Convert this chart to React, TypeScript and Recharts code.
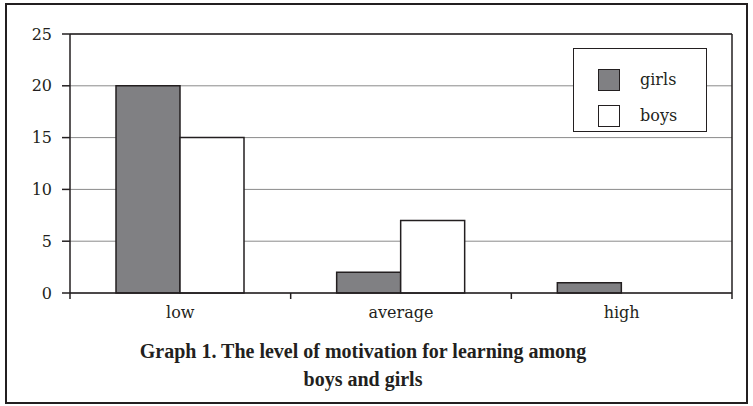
import {
  BarChart,
  Bar,
  XAxis,
  YAxis,
  CartesianGrid,
  ReferenceLine,
} from "recharts";

const categories = ["low", "average", "high"];
const girls = [20, 2, 1];
const boys = [15, 7, 0];
const yTicks = [0, 5, 10, 15, 20, 25];
const titleLines = [
  "Graph 1. The level of motivation for learning among",
  "boys and girls",
];

const data = categories.map((level, i) => ({
  level,
  girls: girls[i],
  boys: boys[i],
}));

const ink = "#231f20";
const gray = "#808083";
const serif = "'DejaVu Serif', serif";
const titleFont = "'Liberation Serif', serif";

const TICK_SIZE = 6;
const TICK_MARGIN = 8;

// category label + tick marks on the category boundaries (Excel style)
function CategoryTick(props: any) {
  const { x, y, payload, index, width, visibleTicksCount } = props;
  const half =
    payload && payload.offset ? payload.offset : width / visibleTicksCount / 2;
  const axisY = y - TICK_SIZE - TICK_MARGIN;
  const last = index === visibleTicksCount - 1;
  return (
    <g>
      <line
        x1={x - half}
        x2={x - half}
        y1={axisY}
        y2={axisY + TICK_SIZE}
        stroke={ink}
        strokeWidth={1.5}
      />
      {last && (
        <line
          x1={x + half}
          x2={x + half}
          y1={axisY}
          y2={axisY + TICK_SIZE}
          stroke={ink}
          strokeWidth={1.5}
        />
      )}
      <text
        x={x}
        y={y}
        dy="0.71em"
        textAnchor="middle"
        fill={ink}
        fontFamily={serif}
        fontSize={16}
      >
        {payload.value}
      </text>
    </g>
  );
}

// legend box, like the Excel one in the original
function LegendBox() {
  const items = [
    { name: "girls", fill: gray },
    { name: "boys", fill: "#ffffff" },
  ];
  return (
    <div
      style={{
        position: "absolute",
        left: 573,
        top: 48,
        width: 134,
        height: 84,
        boxSizing: "border-box",
        border: `1px solid ${ink}`,
        background: "#fff",
        paddingTop: 13,
        fontFamily: serif,
        fontSize: 16,
        color: ink,
      }}
    >
      {items.map((it) => (
        <div
          key={it.name}
          style={{ display: "flex", alignItems: "center", height: 36 }}
        >
          <span
            style={{
              display: "inline-block",
              width: 20,
              height: 20,
              marginLeft: 24,
              border: `1.5px solid ${ink}`,
              background: it.fill,
            }}
          />
          <span style={{ marginLeft: 20, lineHeight: "20px" }}>{it.name}</span>
        </div>
      ))}
    </div>
  );
}

export default function App() {
  return (
    <div
      style={{
        position: "absolute",
        left: 0,
        top: 0,
        width: 753,
        height: 406,
        background: "#fff",
      }}
    >
      <div
        style={{
          position: "absolute",
          left: 5,
          top: 3,
          width: 743,
          height: 401,
          boxSizing: "border-box",
          border: `2px solid ${ink}`,
        }}
      />
      <div style={{ position: "absolute", left: 0, top: 0 }}>
        <BarChart
          width={753}
          height={406}
          data={data}
          margin={{ top: 34, right: 20, bottom: 83, left: 10 }}
          barGap={0}
        >
          <CartesianGrid vertical={false} stroke="#8a8a8a" strokeWidth={1} />
          <XAxis
            dataKey="level"
            height={30}
            tickLine={false}
            tickSize={TICK_SIZE}
            tickMargin={TICK_MARGIN}
            stroke={ink}
            strokeWidth={1.5}
            tick={<CategoryTick />}
          />
          <YAxis
            domain={[0, 25]}
            ticks={yTicks}
            width={60}
            tickSize={8}
            tickMargin={10}
            stroke={ink}
            strokeWidth={1.5}
            tick={{ fill: ink, fontFamily: serif, fontSize: 16 }}
          />
          <YAxis
            yAxisId="right"
            orientation="right"
            domain={[0, 25]}
            width={1}
            tick={false}
            tickLine={false}
            stroke={ink}
            strokeWidth={1.5}
          />
          <ReferenceLine y={25} stroke={ink} strokeWidth={1.5} />
          <Bar
            dataKey="girls"
            name="girls"
            fill={gray}
            stroke={ink}
            strokeWidth={1.5}
            barSize={64}
            isAnimationActive={false}
          />
          <Bar
            dataKey="boys"
            name="boys"
            fill="#ffffff"
            stroke={ink}
            strokeWidth={1.5}
            barSize={64}
            isAnimationActive={false}
          />
        </BarChart>
      </div>
      <LegendBox />
      <div
        style={{
          position: "absolute",
          left: 63,
          width: 600,
          top: 337,
          textAlign: "center",
          fontFamily: titleFont,
          fontWeight: "bold",
          fontSize: 20,
          lineHeight: "28px",
          color: ink,
        }}
      >
        {titleLines.map((l) => (
          <div key={l}>{l}</div>
        ))}
      </div>
    </div>
  );
}
